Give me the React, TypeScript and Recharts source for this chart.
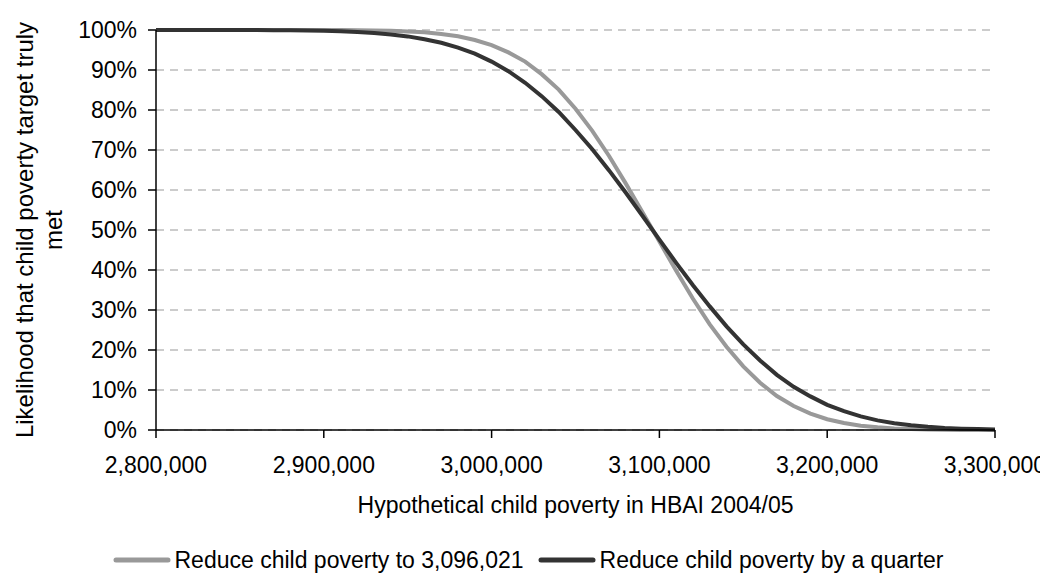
import { LineChart, Line, XAxis, YAxis, CartesianGrid, Legend } from "recharts";

const FONT = "'Liberation Sans', Arial, sans-serif";
const FS = 23;

// hypothetical child poverty levels (x axis)
const povertyLevels = [
  2800000, 2810000, 2820000, 2830000, 2840000, 2850000, 2860000, 2870000, 2880000, 2890000,
  2900000, 2910000, 2920000, 2930000, 2940000, 2950000, 2960000, 2970000, 2980000, 2990000,
  3000000, 3010000, 3020000, 3030000, 3040000, 3050000, 3060000, 3070000, 3080000, 3090000,
  3100000, 3110000, 3120000, 3130000, 3140000, 3150000, 3160000, 3170000, 3180000, 3190000,
  3200000, 3210000, 3220000, 3230000, 3240000, 3250000, 3260000, 3270000, 3280000, 3290000,
  3300000,
];

// Reduce child poverty to 3,096,021 (light grey)
const reduceTo = [
  1.0, 1.0, 1.0, 1.0, 1.0, 1.0, 1.0, 1.0, 1.0, 0.9999,
  0.9999, 0.9997, 0.9994, 0.9989, 0.9981, 0.9965, 0.9941, 0.9901, 0.9842, 0.975,
  0.962, 0.944, 0.921, 0.889, 0.851, 0.803, 0.748, 0.685, 0.616, 0.544,
  0.471, 0.398, 0.328, 0.264, 0.208, 0.159, 0.118, 0.085, 0.06, 0.041,
  0.027, 0.0174, 0.0108, 0.0066, 0.0038, 0.0022, 0.0012, 0.0006, 0.0003, 0.0002,
  0.0001,
];

// Reduce child poverty by a quarter (dark)
const reduceByQuarter = [
  1.0, 1.0, 1.0, 1.0, 1.0, 0.9999, 0.9997, 0.9996, 0.9993, 0.9988,
  0.998, 0.9969, 0.9952, 0.9927, 0.989, 0.984, 0.977, 0.968, 0.956, 0.941,
  0.921, 0.897, 0.868, 0.834, 0.795, 0.75, 0.702, 0.649, 0.593, 0.535,
  0.476, 0.418, 0.362, 0.309, 0.259, 0.214, 0.174, 0.138, 0.108, 0.084,
  0.063, 0.047, 0.034, 0.024, 0.017, 0.0119, 0.008, 0.0052, 0.0034, 0.0022,
  0.0014,
];

const xTicks = [2800000, 2900000, 3000000, 3100000, 3200000, 3300000];
const yTicks = [0, 0.1, 0.2, 0.3, 0.4, 0.5, 0.6, 0.7, 0.8, 0.9, 1];

const seriesNames = ["Reduce child poverty to 3,096,021", "Reduce child poverty by a quarter"];
const seriesColors = ["#999999", "#333333"];
const yTitleLines = ["Likelihood that child poverty target truly", "met"];

const data = povertyLevels.map((x, i) => ({
  x,
  to: reduceTo[i],
  quarter: reduceByQuarter[i],
}));

// two-line rotated y axis title, baselines at x=25 and x=54
const YTitle = ({ viewBox }: any) => {
  const cy = viewBox.y + viewBox.height / 2;
  return (
    <g>
      {yTitleLines.map((line, i) => (
        <text
          key={line}
          transform={`translate(${25 + i * 29}, ${cy}) rotate(-90)`}
          x={0}
          y={0}
          textAnchor="middle"
          fontFamily={FONT}
          fontSize={24}
          fill="#000"
        >
          {line}
        </text>
      ))}
    </g>
  );
};

const XTitle = ({ viewBox }: any) => (
  <text
    x={viewBox.x + viewBox.width / 2}
    y={viewBox.y + 83}
    textAnchor="middle"
    fontFamily={FONT}
    fontSize={FS}
    fill="#000"
  >
    Hypothetical child poverty in HBAI 2004/05
  </text>
);

const LegendContent = () => (
  <div
    style={{
      display: "flex",
      justifyContent: "center",
      fontFamily: FONT,
      fontSize: FS,
      lineHeight: "28px",
      height: 28,
    }}
  >
    {seriesNames.map((name, i) => (
      <div key={name} style={{ display: "flex", alignItems: "center", marginRight: i === 0 ? 14 : 0 }}>
        <svg width={58} height={10} style={{ marginRight: 4 }}>
          <line x1={3} y1={5} x2={55} y2={5} stroke={seriesColors[i]} strokeWidth={5} strokeLinecap="round" />
        </svg>
        <span>{name}</span>
      </div>
    ))}
  </div>
);

export default function App() {
  return (
    <LineChart width={1040} height={567} data={data} margin={{ top: 22, right: 53, bottom: 0, left: 0 }}>
      <CartesianGrid vertical={false} stroke="#999999" strokeDasharray="8 6" />
      <XAxis
        dataKey="x"
        type="number"
        domain={[2800000, 3300000]}
        ticks={xTicks}
        tickFormatter={(v: number) => v.toLocaleString("en-US")}
        tick={{ fontFamily: FONT, fontSize: FS, fill: "#000" }}
        tickSize={8}
        tickMargin={19}
        stroke="#000"
        strokeWidth={1.5}
        height={117}
        label={<XTitle />}
      />
      <YAxis
        type="number"
        domain={[0, 1]}
        ticks={yTicks}
        tickFormatter={(v: number) => `${Math.round(v * 100)}%`}
        tick={{ fontFamily: FONT, fontSize: FS, fill: "#000" }}
        tickSize={8}
        tickMargin={11}
        stroke="#000"
        strokeWidth={1.5}
        width={148}
        label={<YTitle />}
      />
      <Legend content={<LegendContent />} wrapperStyle={{ top: 538, left: 0, width: 1040 }} />
      <Line
        type="linear"
        dataKey="to"
        name={seriesNames[0]}
        stroke={seriesColors[0]}
        strokeWidth={4}
        dot={false}
        isAnimationActive={false}
      />
      <Line
        type="linear"
        dataKey="quarter"
        name={seriesNames[1]}
        stroke={seriesColors[1]}
        strokeWidth={4}
        dot={false}
        isAnimationActive={false}
      />
    </LineChart>
  );
}
